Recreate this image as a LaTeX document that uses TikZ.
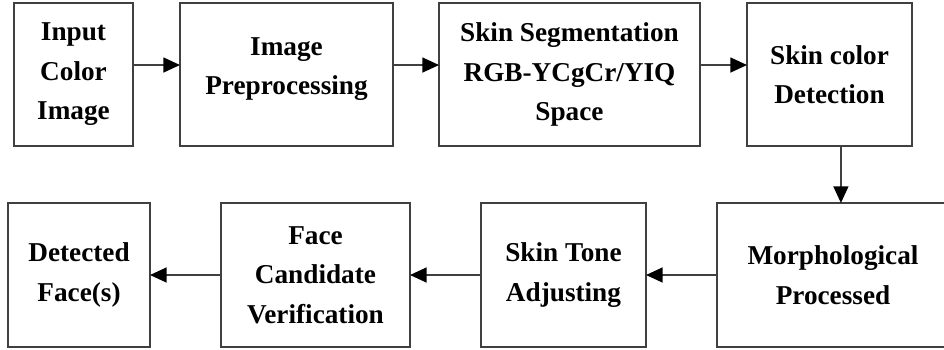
\documentclass[tikz,border=0pt]{standalone}
\usepackage{fontspec}
\setmainfont{Liberation Serif}
\usetikzlibrary{arrows.meta,positioning,calc}

\begin{document}
\begin{tikzpicture}[
    x=0.02cm, y=-0.02cm,
    box/.style={draw=black!75, line width=1pt, inner sep=0pt, outer sep=0pt, align=center,
      font=\fontsize{15.5}{22.5}\selectfont\bfseries, minimum height=2.86cm},
    arr/.style={-{Triangle[length=9.5pt, width=8.5pt, fill=black, color=black]}, line width=1pt, draw=black!75}
]
\clip (0,0) rectangle (944,349);
% top row
\node[box, minimum width=2.38cm] (inp) at (73.5,74.5) {Input\\Color\\Image};
\node[box, minimum width=4.26cm] (pre) at (286.5,74.5) {Image\\Preprocessing\\[-13pt]};
\node[box, minimum width=5.22cm] (seg) at (569.5,74.5) {Skin Segmentation\\RGB-YCgCr/YIQ\\Space};
\node[box, minimum width=3.30cm] (det) at (829.5,74.5) {Skin color\\Detection};
% bottom row
\node[box, minimum width=4.64cm, minimum height=2.88cm] (mor) at (833,275) {Morphological\\Processed};
\node[box, minimum width=3.30cm, minimum height=2.88cm] (ton) at (563.5,275) {Skin Tone\\Adjusting};
\node[box, minimum width=3.78cm, minimum height=2.88cm] (ver) at (315.5,275) {Face\\Candidate\\Verification};
\node[box, minimum width=2.84cm, minimum height=2.88cm] (fac) at (79,275) {Detected\\Face(s)};

\draw[arr] ([yshift=5.4pt]inp.east) -- ([yshift=5.4pt]pre.west);
\draw[arr] ([yshift=5.4pt]pre.east) -- ([yshift=5.4pt]seg.west);
\draw[arr] ([yshift=5.4pt]seg.east) -- ([yshift=5.4pt]det.west);
\draw[arr] ([xshift=6.5pt]det.south) -- ([xshift=6.5pt]det.south |- mor.north);
\draw[arr] (mor) -- (ton);
\draw[arr] (ton) -- (ver);
\draw[arr] (ver) -- (fac);
\end{tikzpicture}
\end{document}
